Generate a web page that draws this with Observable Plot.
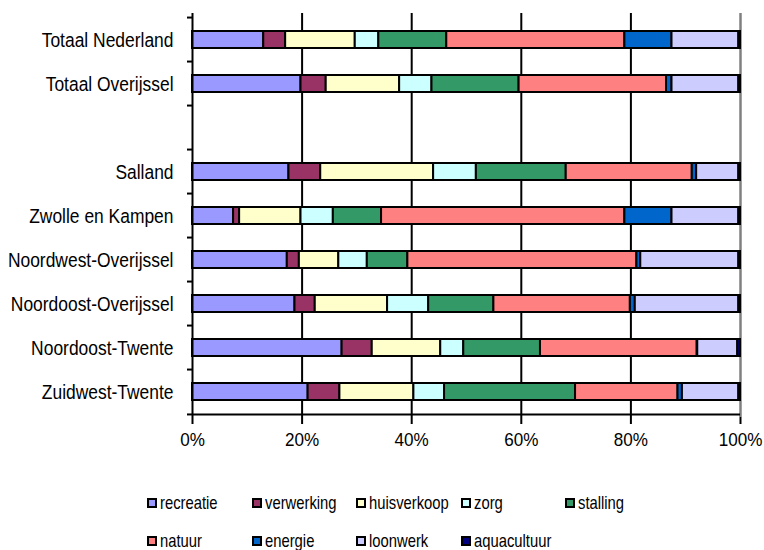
<!DOCTYPE html>
<html><head><meta charset="utf-8">
<script src="https://cdn.jsdelivr.net/npm/d3@7"></script>
<script src="https://cdn.jsdelivr.net/npm/@observablehq/plot@0.6"></script>
<style>
body{margin:0;background:#fff;font-family:"Liberation Sans",Arial,sans-serif;}
#legend{position:relative;width:764px;height:80px;}
.item{position:absolute;display:flex;align-items:center;font-size:18.5px;color:#000;white-space:nowrap;height:20px;}
.sw{width:10px;height:10px;border:2px solid #000;box-sizing:border-box;margin-right:3px;flex:none;}
.lab{display:inline-block;transform:scaleX(0.8);transform-origin:left center;}
</style></head><body><div id="chart"></div><div id="legend"></div>
<script>
const regions = ["Totaal Nederland","Totaal Overijssel"," ","Salland","Zwolle en Kampen","Noordwest-Overijssel","Noordoost-Overijssel","Noordoost-Twente","Zuidwest-Twente"];
const categories = ["recreatie","verwerking","huisverkoop","zorg","stalling","natuur","energie","loonwerk","aquacultuur"];
const colors = ["#9999FF","#993366","#FFFFCC","#CCFFFF","#339966","#FF8080","#0066CC","#CCCCFF","#000080"];
// percentages per category, in the order of `categories`
const totaalNederland     = [13.0, 4.0, 12.7, 4.3, 12.4, 32.5, 8.6, 12.2, 0.3];
const totaalOverijssel    = [19.8, 4.6, 13.4, 5.9, 15.9, 26.9, 1.0, 12.2, 0.3];
const salland             = [17.6, 5.8, 20.6, 7.8, 16.4, 23.0, 0.8, 7.7, 0.3];
const zwolleEnKampen      = [7.5, 1.1, 11.2, 5.9, 8.8, 44.4, 8.6, 12.2, 0.3];
const noordwestOverijssel = [17.3, 2.2, 7.2, 5.2, 7.4, 41.8, 0.7, 17.9, 0.3];
const noordoostOverijssel = [18.7, 3.7, 13.2, 7.5, 11.9, 24.9, 0.9, 18.9, 0.3];
const noordoostTwente     = [27.3, 5.5, 12.5, 4.2, 14.0, 28.6, 0.1, 7.3, 0.5];
const zuidwestTwente      = [21.1, 5.8, 13.5, 5.6, 23.9, 18.7, 0.8, 10.3, 0.3];
const xTicks = [0, 0.2, 0.4, 0.6, 0.8, 1];

const series = {
  "Totaal Nederland": totaalNederland,
  "Totaal Overijssel": totaalOverijssel,
  "Salland": salland,
  "Zwolle en Kampen": zwolleEnKampen,
  "Noordwest-Overijssel": noordwestOverijssel,
  "Noordoost-Overijssel": noordoostOverijssel,
  "Noordoost-Twente": noordoostTwente,
  "Zuidwest-Twente": zuidwestTwente
};
const rows = [];
for (const [region, vals] of Object.entries(series)) {
  vals.forEach((v, i) => rows.push({region, category: categories[i], value: v / 100}));
}

const W = 764, H = 470, mt = 13, mb = 53, ml = 192, mr = 24;
const step = (H - mt - mb) / regions.length;
const font = '"Liberation Sans",Arial,sans-serif';

const chart = Plot.plot({
  width: W, height: H, marginTop: mt, marginBottom: mb, marginLeft: ml, marginRight: mr,
  style: {fontFamily: font, fontSize: "18px", color: "#000", background: "#fff", overflow: "visible"},
  x: {domain: [0, 1], label: null},
  y: {domain: regions, paddingInner: 0.62, paddingOuter: 0.31, label: null},
  color: {domain: categories, range: colors},
  marks: [
    Plot.ruleX(xTicks.slice(1, -1), {stroke: "#000", strokeWidth: 2}),
    Plot.ruleX([1], {stroke: "#808080", strokeWidth: 2.5}),
    Plot.barX(rows, Plot.stackX({x: "value", y: "region", fill: "category", stroke: "#000", strokeWidth: 2})),
    Plot.ruleX([0], {stroke: "#000", strokeWidth: 2}),
    Plot.ruleY([regions[regions.length - 1]], {dy: step / 2, stroke: "#000", strokeWidth: 2}),
    Plot.axisX({ticks: xTicks, tickFormat: d3.format(".0%"), tickSize: 7, tickPadding: 8, strokeWidth: 2, fontSize: 19, label: null}),
    Plot.axisY({tickSize: 0, tickPadding: 19, fontSize: 20.5, label: null}),
    Plot.axisY({tickSize: 5, tickFormat: () => "", dy: -step / 2, strokeWidth: 2, label: null}),
    Plot.axisY([regions[regions.length - 1]], {tickSize: 5, tickFormat: () => "", dy: step / 2, strokeWidth: 2, label: null})
  ]
});
document.getElementById("chart").appendChild(chart);

// condense tick label glyphs (narrow face look)
function condense(selector, k) {
  chart.querySelectorAll(selector).forEach(t => {
    const w = t.getComputedTextLength();
    if (w > 0) {
      t.setAttribute("textLength", (w * k).toFixed(1));
      t.setAttribute("lengthAdjust", "spacingAndGlyphs");
    }
  });
}
condense('g[aria-label="y-axis tick label"] text', 0.85);
condense('g[aria-label="x-axis tick label"] text', 0.9);

const legend = document.getElementById("legend");
categories.forEach((c, i) => {
  const row = Math.floor(i / 5), col = i % 5;
  const it = document.createElement("div");
  it.className = "item";
  it.style.left = (147 + col * 104.5) + "px";
  it.style.top = (23 + row * 38) + "px";
  const sw = document.createElement("span");
  sw.className = "sw";
  sw.style.background = colors[i];
  const lab = document.createElement("span");
  lab.className = "lab";
  lab.textContent = c;
  it.appendChild(sw);
  it.appendChild(lab);
  legend.appendChild(it);
});
</script></body></html>
